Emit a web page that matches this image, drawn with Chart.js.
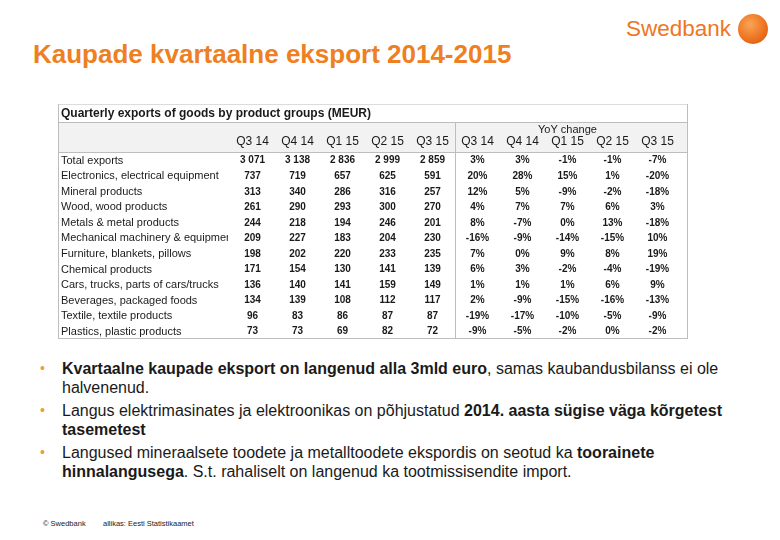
<!DOCTYPE html>
<html>
<head>
<meta charset="utf-8">
<script src="https://cdn.jsdelivr.net/npm/chart.js@4.4.0/dist/chart.umd.min.js"></script>
<style>
  body { margin: 0; width: 780px; height: 540px; background: #fff; position: relative; overflow: hidden;
         font-family: Arial, "Liberation Sans", sans-serif; color: #1a1a1a; }
  #title { position: absolute; left: 33px; top: 39px; font-size: 26px; font-weight: bold; color: #ee7f22; white-space: nowrap; }
  #logo { position: absolute; left: 626px; top: 16px; font-size: 22.5px; color: #ee7623; white-space: nowrap; }
  #logoBall { position: absolute; left: 738px; top: 14px; width: 30px; height: 30px; border-radius: 50%;
              background: radial-gradient(circle at 40% 35%, #f9a556, #ec6f1c 60%, #c9520d); }
  #wrap { position: absolute; left: 58px; top: 103px; width: 630px; height: 236px; }
  ul { position: absolute; left: 40px; top: 359px; margin: 0; padding: 0; list-style: none; font-size: 16px; line-height: 19px; }
  li { position: relative; padding-left: 22px; margin-bottom: 4px; white-space: nowrap; }
  li::before { content: "\2022"; position: absolute; left: 0; top: 0; font-size: 14px; color: #e9a03c; }
  #foot { position: absolute; left: 43px; top: 519px; font-size: 7.5px; color: #1a1a1a; white-space: nowrap; }
  #foot span { position: absolute; left: 60px; top: 0; }
</style>
</head>
<body>
<div id="title">Kaupade kvartaalne eksport 2014-2015</div>
<div id="logo">Swedbank</div>
<div id="logoBall"></div>
<div id="wrap"><canvas id="chart" width="630" height="236"></canvas></div>
<ul>
  <li><b>Kvartaalne kaupade eksport on langenud alla 3mld euro</b>, samas kaubandusbilanss ei ole<br>halvenenud.</li>
  <li>Langus elektrimasinates ja elektroonikas on põhjustatud <b>2014. aasta sügise väga kõrgetest<br>tasemetest</b></li>
  <li>Langused mineraalsete toodete ja metalltoodete ekspordis on seotud ka <b>toorainete<br>hinnalangusega</b>. S.t. rahaliselt on langenud ka tootmissisendite import.</li>
</ul>
<div id="foot">© Swedbank<span>allikas: Eesti Statistikaamet</span></div>

<script>
const quarters = ['Q3 14', 'Q4 14', 'Q1 15', 'Q2 15', 'Q3 15'];
const products = [
  'Total exports',
  'Electronics, electrical equipment',
  'Mineral products',
  'Wood, wood products',
  'Metals & metal products',
  'Mechanical machinery & equipment',
  'Furniture, blankets, pillows',
  'Chemical products',
  'Cars, trucks, parts of cars/trucks',
  'Beverages, packaged foods',
  'Textile, textile products',
  'Plastics, plastic products'
];

// exports, MEUR
const exp_q3_14 = [3071, 737, 313, 261, 244, 209, 198, 171, 136, 134, 96, 73];
const exp_q4_14 = [3138, 719, 340, 290, 218, 227, 202, 154, 140, 139, 83, 73];
const exp_q1_15 = [2836, 657, 286, 293, 194, 183, 220, 130, 141, 108, 86, 69];
const exp_q2_15 = [2999, 625, 316, 300, 246, 204, 233, 141, 159, 112, 87, 82];
const exp_q3_15 = [2859, 591, 257, 270, 201, 230, 235, 139, 149, 117, 87, 72];

// YoY change, %
const yoy_q3_14 = [3, 20, 12, 4, 8, -16, 7, 6, 1, 2, -19, -9];
const yoy_q4_14 = [3, 28, 5, 7, -7, -9, 0, 3, 1, -9, -17, -5];
const yoy_q1_15 = [-1, 15, -9, 7, 0, -14, 9, -2, 1, -15, -10, -2];
const yoy_q2_15 = [-1, 1, -2, 6, 13, -15, 8, -4, 6, -16, -5, 0];
const yoy_q3_15 = [-7, -20, -18, 3, -18, 10, 19, -19, 9, -13, -9, -2];

const levelCols = [exp_q3_14, exp_q4_14, exp_q1_15, exp_q2_15, exp_q3_15];
const yoyCols = [yoy_q3_14, yoy_q4_14, yoy_q1_15, yoy_q2_15, yoy_q3_15];
const columnLabels = quarters.concat(quarters);

const FONT = 'Arial, "Liberation Sans", sans-serif';
Chart.defaults.font.family = FONT;

function fmtLevel(v) {
  return v >= 1000 ? Math.floor(v / 1000) + ' ' + String(v % 1000).padStart(3, '0') : String(v);
}

const tablePlugin = {
  id: 'table',
  beforeDraw(chart) {
    const ctx = chart.ctx, x = chart.scales.x;
    ctx.save();
    ctx.fillStyle = '#f2f2f2';
    ctx.fillRect(0, x.top, chart.width, chart.chartArea.top - x.top);
    ctx.restore();
  },
  afterDraw(chart) {
    const ctx = chart.ctx, x = chart.scales.x, y = chart.scales.y, area = chart.chartArea;
    const W = chart.width;
    ctx.save();

    // grid lines
    ctx.lineWidth = 1;
    ctx.strokeStyle = '#dcdcdc';
    ctx.beginPath(); ctx.moveTo(0, 1.5); ctx.lineTo(W, 1.5); ctx.stroke();
    ctx.strokeStyle = '#bdbdbd';
    const divX = Math.round((x.getPixelForValue(4) + x.getPixelForValue(5)) / 2) + 0.5;
    const top = Math.round(x.top) + 0.5, head = Math.round(area.top) + 0.5, bot = Math.round(area.bottom) - 0.5;
    ctx.beginPath();
    ctx.moveTo(0, top); ctx.lineTo(W, top);
    ctx.moveTo(0, head); ctx.lineTo(W, head);
    ctx.moveTo(0, bot); ctx.lineTo(W, bot);
    ctx.moveTo(0.5, 1); ctx.lineTo(0.5, bot);
    ctx.moveTo(W - 0.5, 1); ctx.lineTo(W - 0.5, bot);
    ctx.moveTo(divX, top); ctx.lineTo(divX, bot);
    ctx.stroke();

    // YoY header
    ctx.fillStyle = '#1a1a1a';
    ctx.font = '11px ' + FONT;
    ctx.textAlign = 'center';
    ctx.textBaseline = 'middle';
    ctx.fillText('YoY change', (x.getPixelForValue(5) + x.getPixelForValue(9)) / 2, x.top + 8);

    // row labels, clipped at the first value column
    ctx.save();
    ctx.beginPath();
    ctx.rect(0, area.top, area.left - 2, area.bottom - area.top);
    ctx.clip();
    ctx.font = '11px ' + FONT;
    ctx.textAlign = 'left';
    products.forEach((p, i) => ctx.fillText(p, 3, y.getPixelForValue(i) + 0.5));
    ctx.restore();

    // cells
    ctx.font = 'bold 10px ' + FONT;
    ctx.textAlign = 'center';
    products.forEach((p, i) => {
      const py = y.getPixelForValue(i) + 0.5;
      levelCols.forEach((col, j) => ctx.fillText(fmtLevel(col[i]), x.getPixelForValue(j), py));
      yoyCols.forEach((col, j) => ctx.fillText(col[i] + '%', x.getPixelForValue(j + 5), py));
    });
    ctx.restore();
  }
};

new Chart(document.getElementById('chart'), {
  type: 'bar',
  data: { labels: columnLabels, datasets: [] },
  options: {
    responsive: false,
    animation: false,
    layout: { padding: { left: 3, right: 8, top: 0, bottom: 0 } },
    plugins: {
      legend: { display: false },
      tooltip: { enabled: false },
      title: {
        display: true,
        text: 'Quarterly exports of goods by product groups (MEUR)',
        align: 'start',
        color: '#1a1a1a',
        font: { size: 12, weight: 'bold', lineHeight: 1.2 },
        padding: { top: 3, bottom: 2 }
      }
    },
    scales: {
      x: {
        position: 'top',
        offset: true,
        grid: { display: false, drawTicks: false },
        border: { display: false },
        ticks: { color: '#1a1a1a', font: { size: 12 }, padding: 4, maxRotation: 0, autoSkip: false },
        afterFit(axis) { axis.height = 30; }
      },
      y: {
        type: 'category',
        labels: products,
        offset: true,
        grid: { display: false, drawTicks: false },
        border: { display: false },
        ticks: { display: false },
        afterFit(axis) { axis.width = 169; }
      }
    }
  },
  plugins: [tablePlugin]
});
</script>
</body>
</html>
